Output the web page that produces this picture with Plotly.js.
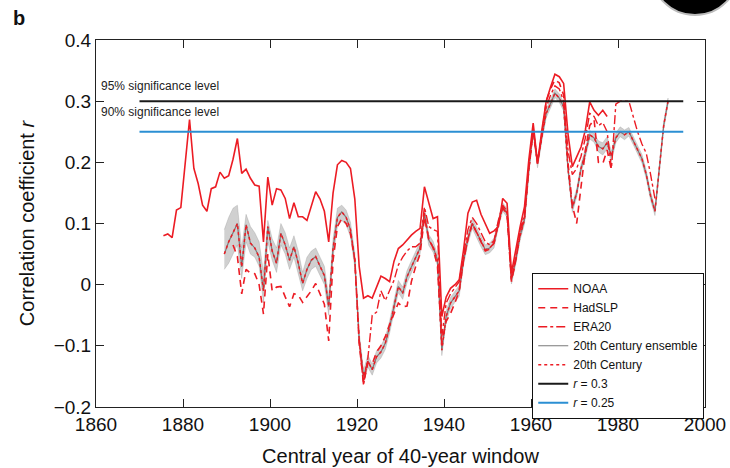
<!DOCTYPE html>
<html>
<head>
<meta charset="utf-8">
<script src="https://cdn.plot.ly/plotly-3.0.1.min.js"></script>
<style>html,body{margin:0;padding:0;background:#fff;}#chart{width:730px;height:468px;}</style>
</head>
<body>
<div id="chart"></div>
<script>
// ---- Data ----
const noaaYears = [1875.5,1876.5,1877.5,1878.5,1879.5,1880.5,1881.5,1882.5,1883.5,1884.5,1885.5,1886.5,1887.5,1888.5,1889.5,1890.5,1891.5,1892.5,1893.5,1894.5,1895.5,1896.5,1897.5,1898.5,1899.5,1900.5,1901.5,1902.5,1903.5,1904.5,1905.5,1906.5,1907.5,1908.5,1909.5,1910.5,1911.5,1912.5,1913.5,1914.5,1915.5,1916.5,1917.5,1918.5,1919.5,1920.5,1921.5,1922.5,1923.5,1924.5,1925.5,1926.5,1927.5,1928.5,1929.5,1930.5,1931.5,1932.5,1933.5,1934.5,1935.5,1936.5,1937.5,1938.5,1939.5,1940.5,1941.5,1942.5,1943.5,1944.5,1945.5,1946.5,1947.5,1948.5,1949.5,1950.5,1951.5,1952.5,1953.5,1954.5,1955.5,1956.5,1957.5,1958.5,1959.5,1960.5,1961.5,1962.5,1963.5,1964.5,1965.5,1966.5,1967.5,1968.5,1969.5,1970.5,1971.5,1972.5,1973.5,1974.5,1975.5,1976.5,1977.5];
const noaa = [0.080,0.083,0.077,0.122,0.126,0.200,0.270,0.190,0.165,0.130,0.120,0.157,0.160,0.184,0.174,0.178,0.205,0.239,0.182,0.189,0.174,0.163,0.161,0.070,0.176,0.130,0.157,0.155,0.141,0.108,0.134,0.111,0.111,0.105,0.128,0.152,0.140,0.120,0.070,0.150,0.196,0.203,0.200,0.190,0.140,0.030,-0.022,-0.018,-0.022,-0.005,0.014,0.010,0.005,0.038,0.059,0.065,0.073,0.081,0.087,0.092,0.160,0.133,0.108,0.111,-0.052,-0.020,-0.006,0.000,0.008,0.057,0.117,0.135,0.138,0.115,0.100,0.084,0.088,0.095,0.141,0.133,0.019,0.060,0.095,0.127,0.204,0.264,0.198,0.253,0.300,0.323,0.344,0.340,0.329,0.247,0.193,0.209,0.225,0.253,0.299,0.285,0.277,0.285,0.275];

const hadYears = [1891.5,1892.5,1893.5,1894.5,1895.5,1896.5,1897.5,1898.5,1899.5,1900.5,1901.5,1902.5,1903.5,1904.5,1905.5,1906.5,1907.5,1908.5,1909.5,1910.5,1911.5,1912.5,1913.5,1914.5,1915.5,1916.5,1917.5,1918.5,1919.5,1920.5,1921.5,1922.5,1923.5,1924.5,1925.5,1926.5,1927.5,1928.5,1929.5,1930.5,1931.5,1932.5,1933.5,1934.5,1935.5,1936.5,1937.5,1938.5,1939.5,1940.5,1941.5,1942.5,1943.5,1944.5,1945.5,1946.5,1947.5,1948.5,1949.5,1950.5,1951.5,1952.5,1953.5,1954.5,1955.5,1956.5,1957.5,1958.5,1959.5,1960.5,1961.5,1962.5,1963.5,1964.5,1965.5,1966.5,1967.5,1968.5,1969.5,1970.5,1971.5,1972.5,1973.5,1974.5,1975.5,1976.5,1977.5,1978.5];
const hadslp = [0.065,0.046,-0.015,0.025,0.019,0.018,0.000,-0.048,0.050,-0.010,-0.004,-0.003,-0.020,-0.036,-0.015,-0.017,-0.029,-0.020,-0.010,0.002,-0.015,-0.032,-0.092,0.040,0.095,0.108,0.100,0.084,0.040,-0.096,-0.161,-0.128,-0.130,-0.110,-0.100,-0.085,-0.065,-0.047,-0.030,-0.036,-0.035,0.005,0.030,0.050,0.110,0.075,0.060,0.030,-0.095,-0.060,-0.047,-0.030,-0.010,0.040,0.075,0.100,0.085,0.068,0.055,0.058,0.068,0.100,0.125,0.115,0.005,0.040,0.085,0.110,0.190,0.250,0.200,0.245,0.300,0.320,0.335,0.330,0.310,0.200,0.130,0.100,0.160,0.220,0.260,0.270,0.200,0.198,0.220,0.187];

const eraYears = [1920.5,1921.5,1922.5,1923.5,1924.5,1925.5,1926.5,1927.5,1928.5,1929.5,1930.5,1931.5,1932.5,1933.5,1934.5,1935.5,1936.5,1937.5,1938.5,1939.5,1940.5,1941.5,1942.5,1943.5,1944.5,1945.5,1946.5,1947.5,1948.5,1949.5,1950.5,1951.5,1952.5,1953.5,1954.5,1955.5,1956.5,1957.5,1958.5,1959.5,1960.5,1961.5,1962.5,1963.5,1964.5,1965.5,1966.5,1967.5,1968.5,1969.5,1970.5,1971.5,1972.5,1973.5,1974.5,1975.5,1976.5,1977.5,1978.5,1979.5,1980.5,1981.5,1982.5,1983.5,1984.5,1985.5,1986.5,1987.5,1988.5];
const era20 = [-0.090,-0.165,-0.120,-0.050,-0.045,-0.010,-0.026,-0.010,0.007,0.032,0.045,0.055,0.062,0.062,0.068,0.127,0.095,0.090,0.087,-0.085,-0.030,-0.015,-0.005,0.005,0.050,0.090,0.110,0.100,0.085,0.070,0.065,0.072,0.105,0.130,0.120,0.010,0.045,0.090,0.115,0.195,0.255,0.200,0.245,0.290,0.310,0.325,0.320,0.300,0.220,0.180,0.190,0.210,0.240,0.280,0.275,0.260,0.265,0.250,0.190,0.295,0.300,0.300,0.300,0.275,0.250,0.230,0.215,0.180,0.140];

const c20Years = [1889.5,1890.5,1891.5,1892.5,1893.5,1894.5,1895.5,1896.5,1897.5,1898.5,1899.5,1900.5,1901.5,1902.5,1903.5,1904.5,1905.5,1906.5,1907.5,1908.5,1909.5,1910.5,1911.5,1912.5,1913.5,1914.5,1915.5,1916.5,1917.5,1918.5,1919.5,1920.5,1921.5,1922.5,1923.5,1924.5,1925.5,1926.5,1927.5,1928.5,1929.5,1930.5,1931.5,1932.5,1933.5,1934.5,1935.5,1936.5,1937.5,1938.5,1939.5,1940.5,1941.5,1942.5,1943.5,1944.5,1945.5,1946.5,1947.5,1948.5,1949.5,1950.5,1951.5,1952.5,1953.5,1954.5,1955.5,1956.5,1957.5,1958.5,1959.5,1960.5,1961.5,1962.5,1963.5,1964.5,1965.5,1966.5,1967.5,1968.5,1969.5,1970.5,1971.5,1972.5,1973.5,1974.5,1975.5,1976.5,1977.5,1978.5,1979.5,1980.5,1981.5,1982.5,1983.5,1984.5,1985.5,1986.5,1987.5,1988.5,1989.5,1990.5,1991.5];
const c20 = [0.050,0.070,0.085,0.100,0.029,0.098,0.068,0.060,0.045,-0.010,0.095,0.055,0.035,0.084,0.065,0.040,0.062,0.035,0.002,0.025,0.040,0.046,0.030,0.015,-0.036,0.060,0.110,0.119,0.110,0.090,0.040,-0.090,-0.150,-0.125,-0.139,-0.118,-0.110,-0.096,-0.069,-0.036,-0.003,-0.014,0.013,0.029,0.046,0.060,0.117,0.073,0.062,0.040,-0.107,-0.052,-0.030,-0.020,-0.010,0.040,0.075,0.100,0.085,0.070,0.057,0.060,0.068,0.100,0.127,0.117,0.008,0.040,0.080,0.106,0.187,0.253,0.198,0.242,0.280,0.296,0.313,0.305,0.291,0.190,0.125,0.150,0.190,0.215,0.245,0.240,0.226,0.222,0.232,0.210,0.240,0.250,0.245,0.250,0.236,0.222,0.206,0.180,0.145,0.120,0.190,0.260,0.300];
// ensemble envelope (upper / lower edge of the grey member lines)
const ensHi = [0.090,0.110,0.125,0.130,0.060,0.115,0.095,0.085,0.070,0.020,0.105,0.075,0.060,0.100,0.085,0.060,0.080,0.055,0.020,0.045,0.055,0.060,0.045,0.030,-0.020,0.075,0.125,0.130,0.122,0.102,0.052,-0.078,-0.140,-0.115,-0.130,-0.108,-0.100,-0.086,-0.059,-0.026,0.007,-0.004,0.023,0.039,0.056,0.070,0.125,0.082,0.071,0.049,-0.098,-0.043,-0.021,-0.011,-0.001,0.048,0.083,0.108,0.093,0.078,0.065,0.068,0.076,0.107,0.134,0.124,0.015,0.047,0.087,0.113,0.194,0.260,0.205,0.249,0.287,0.303,0.320,0.312,0.298,0.197,0.132,0.157,0.197,0.222,0.252,0.247,0.235,0.232,0.242,0.218,0.248,0.258,0.253,0.257,0.243,0.229,0.213,0.187,0.152,0.127,0.197,0.266,0.305];
const ensLo = [0.025,0.035,0.050,0.065,0.010,0.070,0.050,0.045,0.030,-0.030,0.070,0.040,0.020,0.065,0.050,0.025,0.045,0.020,-0.010,0.010,0.025,0.030,0.015,0.000,-0.050,0.045,0.095,0.105,0.098,0.078,0.028,-0.100,-0.160,-0.135,-0.148,-0.128,-0.120,-0.106,-0.079,-0.046,-0.013,-0.024,0.003,0.019,0.036,0.050,0.107,0.064,0.053,0.031,-0.116,-0.061,-0.039,-0.029,-0.019,0.032,0.067,0.092,0.077,0.062,0.049,0.052,0.060,0.093,0.120,0.110,0.001,0.033,0.073,0.099,0.180,0.246,0.191,0.235,0.273,0.289,0.306,0.298,0.284,0.183,0.118,0.143,0.183,0.208,0.238,0.233,0.217,0.212,0.222,0.202,0.232,0.242,0.237,0.243,0.229,0.215,0.199,0.173,0.138,0.113,0.183,0.254,0.295];

const sigYears = [1870, 1995];
const sig95 = [0.3, 0.3];
const sig90 = [0.25, 0.25];

const xTicks = [1860,1880,1900,1920,1940,1960,1980,2000];
const yTicks = [-0.2,-0.1,0,0.1,0.2,0.3,0.4];

// ---- Styling ----
const RED = '#ec1c24';
const FONT = 'Liberation Sans, Arial, Helvetica, sans-serif';

const bandX = c20Years.concat(c20Years.slice().reverse());
const bandY = ensHi.concat(ensLo.slice().reverse());

const traces = [
  {x: bandX, y: bandY, type: 'scatter', mode: 'lines', fill: 'toself',
   fillcolor: 'rgba(150,150,150,0.45)', line: {color: 'rgba(140,140,140,0.6)', width: 0.5},
   showlegend: false, hoverinfo: 'skip'},
  {x: c20Years, y: c20, name: '20th Century ensemble', type: 'scatter', mode: 'lines',
   line: {color: '#7a7a7a', width: 1.2}, legendrank: 4},
  {x: hadYears, y: hadslp, name: 'HadSLP', type: 'scatter', mode: 'lines',
   line: {color: RED, width: 1.6, dash: '7px,5px'}, legendrank: 2},
  {x: eraYears, y: era20, name: 'ERA20', type: 'scatter', mode: 'lines',
   line: {color: RED, width: 1.4, dash: 'dashdot'}, legendrank: 3},
  {x: c20Years, y: c20, name: '20th Century', type: 'scatter', mode: 'lines',
   line: {color: RED, width: 1.5, dash: 'dot'}, legendrank: 5},
  {x: noaaYears, y: noaa, name: 'NOAA', type: 'scatter', mode: 'lines',
   line: {color: RED, width: 1.6}, legendrank: 1},
  {x: sigYears, y: sig95, name: '<i>r</i> = 0.3', type: 'scatter', mode: 'lines',
   line: {color: '#1a1a1a', width: 2}, legendrank: 6},
  {x: sigYears, y: sig90, name: '<i>r</i> = 0.25', type: 'scatter', mode: 'lines',
   line: {color: '#2b8fd3', width: 2}, legendrank: 7}
];

const axisCommon = {
  showgrid: false, zeroline: false, showline: true, linecolor: '#222', linewidth: 1,
  mirror: 'ticks', ticks: 'inside', ticklen: 8, tickcolor: '#222', tickwidth: 1,
  tickfont: {family: FONT, size: 19, color: '#111'}
};

const layout = {
  width: 730, height: 468,
  margin: {l: 96, r: 25, t: 40, b: 61},
  paper_bgcolor: '#fff', plot_bgcolor: '#fff',
  font: {family: FONT, color: '#111'},
  xaxis: Object.assign({}, axisCommon, {
    range: [1860, 2000], tickvals: xTicks,
    title: {text: 'Central year of 40-year window', font: {family: FONT, size: 20, color: '#111'}, standoff: 15}
  }),
  yaxis: Object.assign({}, axisCommon, {
    range: [-0.2, 0.4], tickvals: yTicks,
    title: {text: 'Correlation coefficient <i>r</i>', font: {family: FONT, size: 20, color: '#111'}, standoff: 13}
  }),
  legend: {
    x: 0.716, y: 0.365, xanchor: 'left', yanchor: 'top',
    bgcolor: '#fff', bordercolor: '#111', borderwidth: 1.2,
    font: {family: FONT, size: 12, color: '#111'},
    tracegroupgap: 0, itemwidth: 30
  },
  annotations: [
    {xref: 'paper', yref: 'paper', x: -0.14, y: 1.06, xanchor: 'left', yanchor: 'middle',
     text: '<b>b</b>', showarrow: false, font: {family: FONT, size: 20, color: '#111'}},
    {xref: 'x', yref: 'y', x: 1860.8, y: 0.325, xanchor: 'left', yanchor: 'middle',
     text: '95% significance level', showarrow: false, font: {family: FONT, size: 12, color: '#222'}},
    {xref: 'x', yref: 'y', x: 1860.8, y: 0.283, xanchor: 'left', yanchor: 'middle',
     text: '90% significance level', showarrow: false, font: {family: FONT, size: 12, color: '#222'}}
  ],
  shapes: [
    {type: 'circle', xref: 'paper', yref: 'paper', layer: 'above',
     x0: (651 - 96) / 609, x1: (739 - 96) / 609, y0: (407 - 15) / 367, y1: (407 + 73) / 367,
     fillcolor: '#000', line: {color: '#bbb', width: 2}}
  ]
};

Plotly.newPlot('chart', traces, layout, {displayModeBar: false, staticPlot: true});
</script>
</body>
</html>
